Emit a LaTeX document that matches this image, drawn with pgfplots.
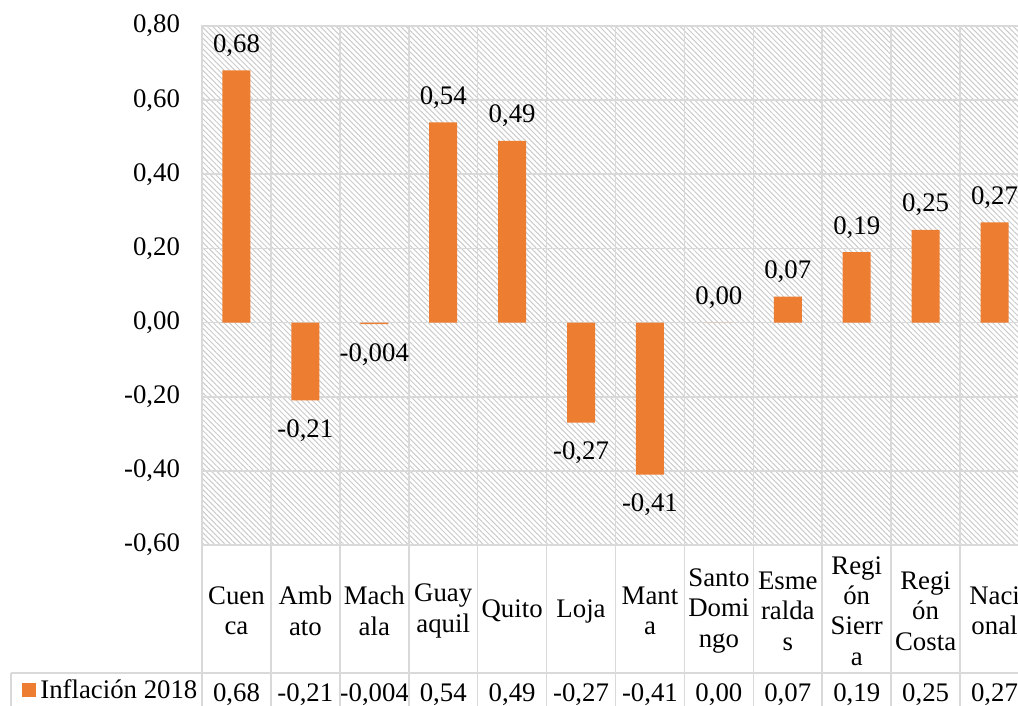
\documentclass[border=0pt]{standalone}
\usepackage{pgfplots}
\pgfplotsset{compat=1.18}
\usepackage{pgfplotstable}
\usepackage{fontspec}
\setmainfont{Liberation Serif}
\usetikzlibrary{patterns.meta}
\definecolor{barc}{HTML}{ED7D31}
\definecolor{gridc}{HTML}{D9D9D9}
\definecolor{hatchc}{HTML}{CBCBCB}
\newcommand\cf{\fontsize{13.4}{15.2}\selectfont}

\pgfplotstableread{
x y lab
0 0.68 0,68
3 0.54 0,54
4 0.49 0,49
7 0.00 0,00
8 0.07 0,07
9 0.19 0,19
10 0.25 0,25
11 0.27 0,27
}\tabpos
\pgfplotstableread{
x y lab
1 -0.21 -0,21
2 -0.004 -0,004
5 -0.27 -0,27
6 -0.41 -0,41
}\tabneg

\begin{document}
\begin{tikzpicture}
\begin{axis}[
  at={(101pt,80.5pt)}, anchor=south west,
  scale only axis, width=413.5pt, height=259.5pt,
  xmin=-0.5, xmax=11.5, ymin=-0.6, ymax=0.8,
  clip=false,
  axis background/.style={pattern={Lines[angle=-45,distance=1.9pt,line width=0.5pt]}, pattern color=hatchc},
  axis line style={draw=gridc, line width=0.8pt},
  major tick length=0pt, minor tick length=0pt,
  ytick={-0.6,-0.4,-0.2,0,0.2,0.4,0.6,0.8},
  yticklabels={{-0,60},{-0,40},{-0,20},{0,00},{0,20},{0,40},{0,60},{0,80}},
  yticklabel style={font=\cf, anchor=east, xshift=-7.5pt},
  ymajorgrids,
  major grid style={draw=gridc, line width=0.8pt},
  minor grid style={draw=gridc, line width=0.8pt},
  xtick={0,...,11},
  minor xtick={-0.5,0.5,...,11.5},
  xminorgrids,
  xticklabels={{Cuen\\ca},{Amb\\ato},{Mach\\ala},{Guay\\aquil},{Quito},{Loja},{Mant\\a},{Santo\\Domi\\ngo},{Esme\\ralda\\s},{Regi\\ón\\Sierr\\a},{Regi\\ón\\Costa},{Naci\\onal}},
  xticklabel style={font=\cf, align=center, anchor=center, yshift=-33pt},
  extra x ticks={0,...,11},
  extra x tick labels={{0,68},{-0,21},{-0,004},{0,54},{0,49},{-0,27},{-0,41},{0,00},{0,07},{0,19},{0,25},{0,27}},
  extra x tick style={grid=none, xticklabel style={yshift=-42pt}},
  ybar, bar width=14pt,
  point meta=explicit symbolic,
  legend style={draw=none, fill=none, at={(axis description cs:-0.2177,-0.2800)}, anchor=west, font=\cf, inner sep=0pt},
  legend image code/.code={\fill[barc] (0pt,-3.5pt) rectangle (7pt,3.5pt);},
]
\addplot[fill=barc, draw=none, bar shift=0pt, nodes near coords,
  nodes near coords style={font=\cf, anchor=base, inner sep=0pt, yshift=9pt, text=black}]
  table[x=x, y=y, meta=lab] {\tabpos};
\addlegendentry{Inflación 2018}
\addplot[fill=barc, draw=none, bar shift=0pt, forget plot, nodes near coords,
  nodes near coords style={font=\cf, anchor=north, inner sep=0pt, yshift=-9.5pt, text=black}]
  table[x=x, y=y, meta=lab] {\tabneg};
\end{axis}
\begin{scope}[x=0.5pt, y=0.5pt, draw=gridc, line width=0.8pt]
\foreach \k in {0,...,12} \draw (202+\k*68.917,161) -- (202+\k*68.917,-5);
\draw (11,33) -- (1040,33);
\draw (11,33) -- (11,-5);
\end{scope}
\pgfresetboundingbox
\path[use as bounding box] (0pt,0pt) rectangle (509pt,353pt);
\end{tikzpicture}
\end{document}
